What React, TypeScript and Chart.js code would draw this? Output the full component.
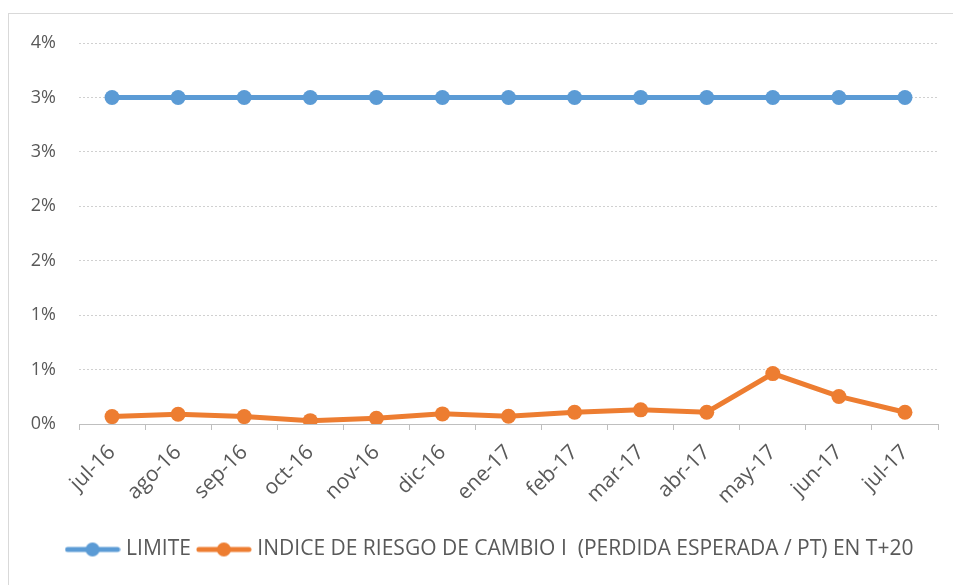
import React, { useEffect, useRef } from "react";
import { Chart, registerables } from "chart.js";

Chart.register(...registerables);

const categories = ["jul-16", "ago-16", "sep-16", "oct-16", "nov-16", "dic-16", "ene-17", "feb-17", "mar-17", "abr-17", "may-17", "jun-17", "jul-17"];
const limite = [3, 3, 3, 3, 3, 3, 3, 3, 3, 3, 3, 3, 3];
const indice = [0.068, 0.09, 0.068, 0.031, 0.053, 0.093, 0.071, 0.108, 0.13, 0.108, 0.463, 0.253, 0.108];
const seriesNames = ["LIMITE", "INDICE DE RIESGO DE CAMBIO I  (PERDIDA ESPERADA / PT) EN T+20"];
const yMin = 0;
const yMax = 3.5;
const yStep = 0.5;

const BLUE = "#5B9BD5";
const ORANGE = "#ED7D31";
const TEXT = "#595959";
const FONT = "'Open Sans', 'Liberation Sans', sans-serif";

function legendMarker(color: string): HTMLCanvasElement {
  const c = document.createElement("canvas");
  c.width = 56;
  c.height = 16;
  const ctx = c.getContext("2d")!;
  ctx.strokeStyle = color;
  ctx.lineWidth = 5;
  ctx.lineCap = "round";
  ctx.beginPath();
  ctx.moveTo(3, 8);
  ctx.lineTo(53, 8);
  ctx.stroke();
  ctx.fillStyle = color;
  ctx.beginPath();
  ctx.arc(28, 8, 7, 0, Math.PI * 2);
  ctx.fill();
  return c;
}

const legendShift = {
  id: "legendShift",
  afterLayout(chart: any) {
    if (chart.legend) {
      chart.legend.left += 18;
      chart.legend.right += 18;
    }
  },
};

export default function App() {
  const ref = useRef<HTMLCanvasElement | null>(null);
  useEffect(() => {
    if (!ref.current) return;
    const markers = [legendMarker(BLUE), legendMarker(ORANGE)];
    const chart = new Chart(ref.current, {
      type: "line",
      data: {
        labels: categories,
        datasets: [
          {
            label: seriesNames[0],
            data: limite,
            borderColor: BLUE,
            backgroundColor: BLUE,
            borderWidth: 5,
            pointRadius: 7.5,
            pointBackgroundColor: BLUE,
            pointBorderWidth: 0,
          },
          {
            label: seriesNames[1],
            data: indice,
            borderColor: ORANGE,
            backgroundColor: ORANGE,
            borderWidth: 5,
            pointRadius: 7.5,
            pointBackgroundColor: ORANGE,
            pointBorderWidth: 0,
          },
        ],
      },
      options: {
        animation: false,
        responsive: false,
        layout: { padding: { left: 0, right: 15, top: 29, bottom: 16 } },
        scales: {
          x: {
            offset: true,
            grid: {
              offset: true,
              drawOnChartArea: false,
              drawTicks: true,
              tickLength: 6,
              color: "#bfbfbf",
            },
            border: { display: true, color: "#bfbfbf", width: 1 },
            ticks: {
              color: TEXT,
              font: { family: FONT, size: 21 },
              maxRotation: 45,
              minRotation: 45,
              padding: 10,
            },
            afterFit: (scale: any) => {
              scale.height = 105;
              scale.paddingTop = 0;
              scale.paddingBottom = 0;
            },
          },
          y: {
            min: yMin,
            max: yMax,
            ticks: {
              stepSize: yStep,
              color: TEXT,
              font: { family: FONT, size: 18 },
              padding: 23,
              callback: (v: any) => Math.round(Number(v)) + "%",
            },
            grid: {
              drawTicks: false,
              color: "#d0d0d0",
              lineWidth: 1,
            },
            border: { display: false, dash: [2, 2] },
            afterFit: (scale: any) => {
              scale.width = 70;
              scale.paddingTop = 0;
              scale.paddingBottom = 0;
            },
          },
        },
        plugins: {
          tooltip: { enabled: false },
          legend: {
            position: "bottom",
            labels: {
              color: TEXT,
              font: { family: FONT, size: 21 },
              usePointStyle: true,
              pointStyleWidth: 46,
              padding: 10,
              generateLabels: (ch: any) => {
                const base = Chart.defaults.plugins.legend.labels.generateLabels(ch);
                return base.map((l: any, i: number) => ({ ...l, pointStyle: markers[i], fontColor: TEXT }));
              },
            },
          },
        },
      },
      plugins: [legendShift],
    });
    return () => chart.destroy();
  }, []);
  return (
    <div
      style={{
        position: "absolute",
        left: 8,
        top: 13,
        width: 944,
        height: 580,
        borderTop: "1px solid #d9d9d9",
        borderLeft: "1px solid #d9d9d9",
        borderRight: "1px solid #d9d9d9",
        background: "#fff",
      }}
    >
      <canvas ref={ref} width={944} height={572} style={{ display: "block" }} />
    </div>
  );
}
